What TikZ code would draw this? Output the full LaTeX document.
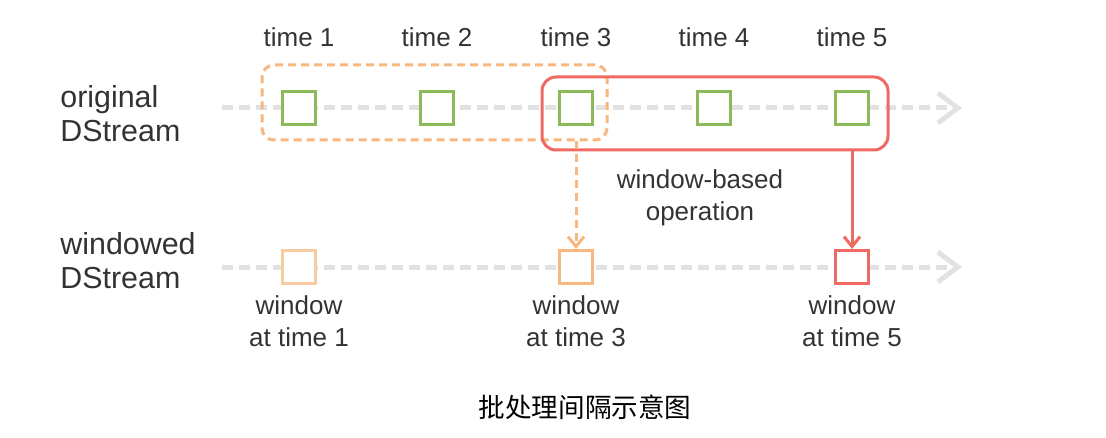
\documentclass[tikz,border=0pt]{standalone}
\usepackage{fontspec}
\setmainfont{Liberation Sans}
\newfontfamily\cjk{Noto Sans CJK SC}
\usepackage{tikz}
\usetikzlibrary{positioning,fit,arrows.meta}
\usepackage{xcolor}
\definecolor{batchgreen}{HTML}{8CBA5A}
\definecolor{winorange}{HTML}{F8B77F}
\definecolor{winpale}{HTML}{F9CBA2}
\definecolor{opred}{HTML}{EF6A62}
\definecolor{streamgray}{HTML}{E2E2E2}
\definecolor{txtgray}{HTML}{333333}

\begin{document}
\begin{tikzpicture}[x=0.5pt, y=-0.5pt, text=txtgray,
    font=\fontsize{13}{15}\selectfont,
    batch/.style={draw=batchgreen, fill=white, line width=1.5pt, minimum size=16.5pt, inner sep=0pt},
    winbox/.style={draw=#1, fill=white, line width=1.5pt, minimum size=16.5pt, inner sep=0pt},
    stream/.style={draw=streamgray, line width=2.5pt, dash pattern=on 5.5pt off 3pt,
        -{Straight Barb[length=10pt, width=15pt, line width=2.5pt]}},
    timelabel/.style={inner sep=0pt},
    rowlabel/.style={align=left, anchor=west, inner sep=0pt, font=\fontsize{15.2}{17}\selectfont},
    winlabel/.style={align=center, inner sep=0pt, font=\fontsize{13}{16}\selectfont}]
    \useasboundingbox (0,0) rectangle (1106,438);

    % row labels
    \node[rowlabel] (orig) at (60,114) {original\\DStream};
    \node[rowlabel] (windowed) at (60,261) {windowed\\DStream};

    % the two streams (dashed gray, open arrow at the right)
    \coordinate (origstart) at (222,108);
    \coordinate (origend) at (962,108);
    \coordinate (winstart) at (222,267);
    \coordinate (winend) at (962,267);
    \draw[stream] (origstart) -- (origend);
    \draw[stream] (winstart) -- (winend);

    % time labels and batches
    \foreach \i/\x in {1/299, 2/437, 3/576, 4/714, 5/852} {
        \node[timelabel] (t\i) at (\x,37) {time \i};
        \node[batch] (b\i) at (\x,108) {};
    }

    % window at time 3 (dashed orange) and window at time 5 (red)
    \node[draw=winorange, line width=1.5pt, dash pattern=on 4pt off 2.5pt, rounded corners=6pt,
        inner sep=0pt, fit={(262,65) (607,140)}] (win3) {};
    \node[draw=opred, line width=1.5pt, rounded corners=7pt,
        inner sep=0pt, fit={(542,77) (888,150)}] (win5) {};

    \node[winlabel] at (700,198) {window-based\\operation};

    % windowed stream
    \node[winbox=winpale] (w1) at (299,267) {};
    \node[winbox=winorange] (w3) at (576,267) {};
    \node[winbox=opred] (w5) at (852,267) {};

    % window-based operation arrows
    \draw[winorange, line width=1.5pt, dash pattern=on 4pt off 2.5pt,
        -{Straight Barb[length=5pt, width=8pt]}] (win3.south -| w3) -- (w3.north);
    \draw[opred, line width=1.5pt,
        -{Straight Barb[length=5pt, width=8pt]}] (win5.south -| w5) -- (w5.north);

    % window labels
    \node[winlabel] (l1) at (299,321) {window\\at time 1};
    \node[winlabel] (l3) at (576,321) {window\\at time 3};
    \node[winlabel] (l5) at (852,321) {window\\at time 5};

    % caption
    \node[inner sep=0pt, text=black, font=\cjk\fontsize{13.3}{16}\selectfont] (caption) at (585,407) {批处理间隔示意图};
\end{tikzpicture}
\end{document}
